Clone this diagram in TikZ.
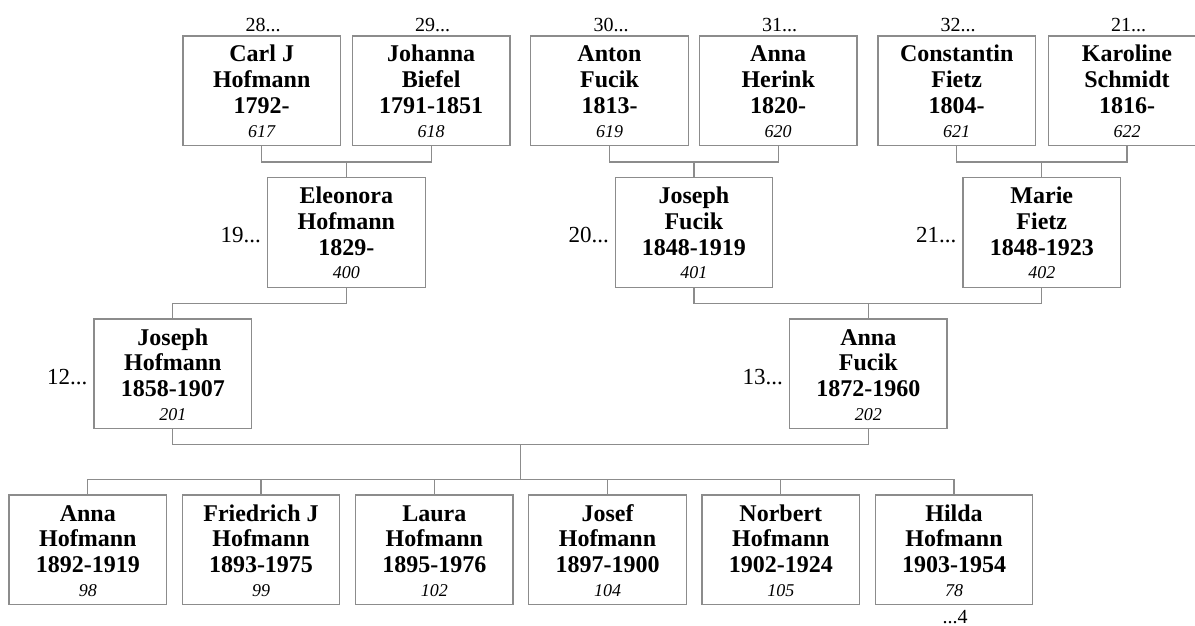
\documentclass[tikz,border=0pt]{standalone}
\usepackage{fontspec}
\setmainfont{Liberation Serif}
\definecolor{linegray}{HTML}{8C8C8C}
\tikzset{
  pbox/.style={draw=linegray, line width=1.2pt, minimum width=157.5pt, minimum height=109.5pt, inner sep=0pt, outer sep=0pt},
  nm/.style={font=\fontsize{24}{28}\selectfont\bfseries, inner sep=0pt, anchor=base},
  num/.style={font=\fontsize{18}{20}\selectfont\itshape, inner sep=0pt, anchor=base},
  lab/.style={font=\fontsize{20}{24}\selectfont, inner sep=0pt},
  sidelab/.style={font=\fontsize{23}{26}\selectfont, inner sep=0pt, anchor=base east},
  conn/.style={draw=linegray, line width=1.2pt}
}
% #1 name, #2 centre x, #3 top y, #4-#6 lines, #7 number
\newcommand\personbox[7]{%
  \node[pbox] (#1) at (#2,#3+54.75) {};
  \node[nm] (#1-a) at (#2,#3+26) {#4};
  \node[nm] (#1-b) at (#2,#3+51.5) {#5};
  \node[nm] (#1-c) at (#2,#3+77.5) {#6};
  \node[num] (#1-d) at (#2,#3+101) {#7};
}
\begin{document}
\begin{tikzpicture}[x=1pt,y=-1pt]
\clip (0,0) rectangle (1195,626);
\fill[white] (0,0) rectangle (1195,626);

% generation 1
\personbox{carl}{261.7}{36}{Carl J}{Hofmann}{1792-}{617}
\personbox{johanna}{431.2}{36}{Johanna}{Biefel}{1791-1851}{618}
\personbox{anton}{609.5}{36}{Anton}{Fucik}{1813-}{619}
\personbox{annah}{778.2}{36}{Anna}{Herink}{1820-}{620}
\personbox{constantin}{956.7}{36}{Constantin}{Fietz}{1804-}{621}
\personbox{karoline}{1127}{36}{Karoline}{Schmidt}{1816-}{622}

\node[lab,anchor=base] (l28) at (263,31.7) {28...};
\node[lab,anchor=base] (l29) at (432.5,31.7) {29...};
\node[lab,anchor=base] (l30) at (611,31.7) {30...};
\node[lab,anchor=base] (l31) at (779.5,31.7) {31...};
\node[lab,anchor=base] (l32) at (958,31.7) {32...};
\node[lab,anchor=base] (l21a) at (1128.5,31.7) {21...};

% generation 2
\personbox{eleonora}{346.4}{177.7}{Eleonora}{Hofmann}{1829-}{400}
\personbox{josephf}{693.9}{177.7}{Joseph}{Fucik}{1848-1919}{401}
\personbox{marie}{1041.8}{177.7}{Marie}{Fietz}{1848-1923}{402}

\node[sidelab] (l19) at (261,242) {19...};
\node[sidelab] (l20) at (609,242) {20...};
\node[sidelab] (l21b) at (956.5,242) {21...};

% generation 3
\personbox{josephh}{172.8}{319}{Joseph}{Hofmann}{1858-1907}{201}
\personbox{annaf}{868.3}{319}{Anna}{Fucik}{1872-1960}{202}

\node[sidelab] (l12) at (87.5,384) {12...};
\node[sidelab] (l13) at (783,384) {13...};

% generation 4
\personbox{c1}{87.8}{495}{Anna}{Hofmann}{1892-1919}{98}
\personbox{c2}{261}{495}{Friedrich J}{Hofmann}{1893-1975}{99}
\personbox{c3}{434.3}{495}{Laura}{Hofmann}{1895-1976}{102}
\personbox{c4}{607.5}{495}{Josef}{Hofmann}{1897-1900}{104}
\personbox{c5}{780.8}{495}{Norbert}{Hofmann}{1902-1924}{105}
\personbox{c6}{954}{495}{Hilda}{Hofmann}{1903-1954}{78}

\node[lab,anchor=base] (l4) at (955,623) {...4};

% connector junctions
\coordinate (m1) at (346.4,162);
\coordinate (m2) at (693.9,162);
\coordinate (m3) at (1041.8,162);
\coordinate (e1) at (346.4,303.3);
\coordinate (m4) at (868.3,303.3);
\coordinate (m5) at (520.6,444.5);
\coordinate (cbar) at (520.6,479.3);

\draw[conn] (carl.south) |- (m1) -| (johanna.south);
\draw[conn] (m1) -- (eleonora.north);
\draw[conn] (anton.south) |- (m2) -| (annah.south);
\draw[conn] (m2) -- (josephf.north);
\draw[conn] (constantin.south) |- (m3) -| (karoline.south);
\draw[conn] (m3) -- (marie.north);

\draw[conn] (eleonora.south) -- (e1) -| (josephh.north);
\draw[conn] (josephf.south) |- (m4) -| (marie.south);
\draw[conn] (m4) -- (annaf.north);

\draw[conn] (josephh.south) |- (m5) -| (annaf.south);
\draw[conn] (m5) -- (cbar);
\draw[conn] (c1.north) |- (cbar) -| (c6.north);
\draw[conn] (c2.north) -- (c2.north |- cbar);
\draw[conn] (c3.north) -- (c3.north |- cbar);
\draw[conn] (c4.north) -- (c4.north |- cbar);
\draw[conn] (c5.north) -- (c5.north |- cbar);
\end{tikzpicture}
\end{document}
